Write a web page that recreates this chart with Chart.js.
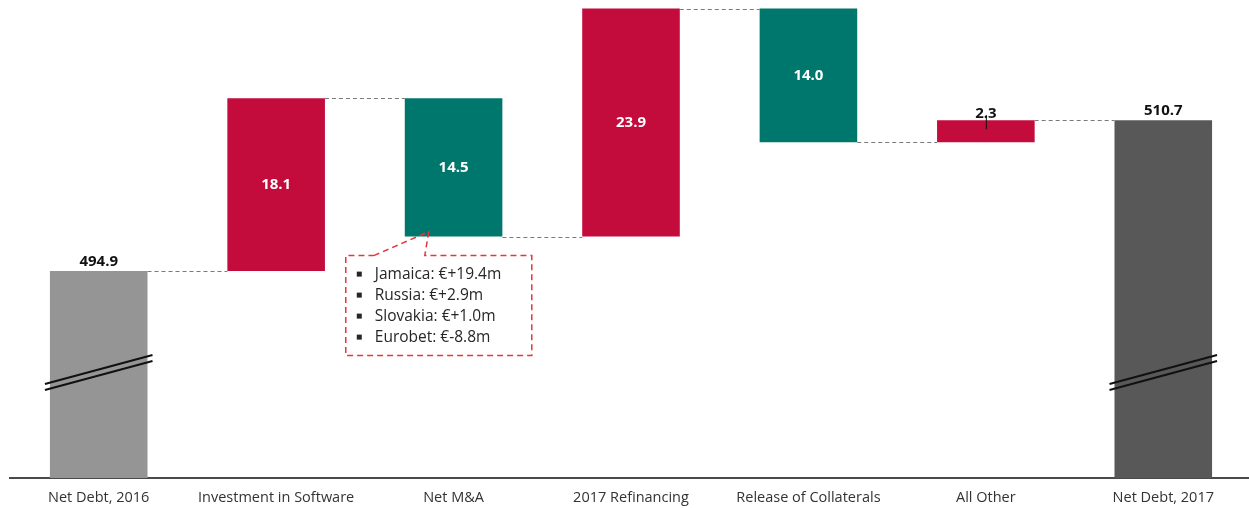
<!DOCTYPE html>
<html>
<head>
<meta charset="utf-8">
<script src="https://cdn.jsdelivr.net/npm/chart.js@4.4.0/dist/chart.umd.min.js"></script>
<style>
  html, body { margin: 0; padding: 0; background: #fff; }
  #wrap { width: 1252px; height: 508px; }
</style>
</head>
<body>
<div id="wrap"><canvas id="bridge"></canvas></div>
<script>
// 차트 데이터
const categories = ['Net Debt, 2016', 'Investment in Software', 'Net M&A', '2017 Refinancing', 'Release of Collaterals', 'All Other', 'Net Debt, 2017'];
const startValue = 494.9;
const changes = [18.1, -14.5, 23.9, -14.0, 2.3];
const endValue = 510.7;
const calloutLines = ['Jamaica: €+19.4m', 'Russia: €+2.9m', 'Slovakia: €+1.0m', 'Eurobet: €-8.8m'];

// 색
const red = '#C30B3C';
const teal = '#00776D';
const startGrey = '#959595';
const endGrey = '#585858';
const fontFamily = '"Open Sans", "Noto Sans", sans-serif';

// 누적값으로 floating bar 만들기
const barData = [startValue];
const levels = [startValue];
let running = startValue;
changes.forEach(c => {
  barData.push([running, running + c]);
  running = running + c;
  levels.push(running);
});
barData.push(endValue);

const barColors = [startGrey].concat(changes.map(c => c >= 0 ? red : teal)).concat([endGrey]);

// 연결선, 값 라벨, 절단 표시, 설명 박스
const bridgeDecor = {
  id: 'bridgeDecor',
  afterDatasetsDraw(chart) {
    const ctx = chart.ctx;
    const y = chart.scales.y;
    const bars = chart.getDatasetMeta(0).data;
    const area = chart.chartArea;

    // dashed connectors
    ctx.save();
    ctx.strokeStyle = '#7a7a7a';
    ctx.lineWidth = 1;
    ctx.setLineDash([4, 3]);
    for (let i = 0; i < bars.length - 1; i++) {
      const lv = y.getPixelForValue(levels[i]);
      const x1 = bars[i].x + bars[i].width / 2;
      const x2 = bars[i + 1].x - bars[i + 1].width / 2;
      ctx.beginPath();
      ctx.moveTo(x1, Math.round(lv) + 0.5);
      ctx.lineTo(x2, Math.round(lv) + 0.5);
      ctx.stroke();
    }
    ctx.restore();

    // value labels
    ctx.save();
    ctx.textAlign = 'center';
    ctx.font = 'bold 15px ' + fontFamily;
    // totals
    [0, bars.length - 1].forEach(i => {
      const v = i === 0 ? startValue : endValue;
      ctx.fillStyle = '#111';
      ctx.textBaseline = 'bottom';
      ctx.fillText(v.toFixed(1), bars[i].x, y.getPixelForValue(v) - 2);
    });
    changes.forEach((c, k) => {
      const b = bars[k + 1];
      const top = y.getPixelForValue(Math.max(levels[k], levels[k + 1]));
      const bottom = y.getPixelForValue(Math.min(levels[k], levels[k + 1]));
      const txt = Math.abs(c).toFixed(1);
      if (bottom - top > 30) {
        ctx.fillStyle = '#fff';
        ctx.textBaseline = 'middle';
        ctx.fillText(txt, b.x, (top + bottom) / 2);
      } else {
        ctx.fillStyle = '#111';
        ctx.textBaseline = 'bottom';
        ctx.fillText(txt, b.x, top + 1);
        ctx.strokeStyle = '#111';
        ctx.lineWidth = 1;
        ctx.beginPath();
        ctx.moveTo(b.x + 0.5, top - 5);
        ctx.lineTo(b.x + 0.5, top + 9);
        ctx.stroke();
      }
    });
    ctx.restore();

    // axis break marks on the total bars
    ctx.save();
    ctx.strokeStyle = '#111';
    ctx.lineWidth = 2;
    [0, bars.length - 1].forEach(i => {
      const b = bars[i];
      const l = b.x - b.width / 2 - 5;
      const r = b.x + b.width / 2 + 5;
      const mid = area.bottom - 106;
      [-3, 3].forEach(off => {
        ctx.beginPath();
        ctx.moveTo(l, mid + 15 + off);
        ctx.lineTo(r, mid - 14 + off);
        ctx.stroke();
      });
    });
    ctx.restore();

    // Net M&A callout
    const mb = bars[2];
    const tipX = mb.x - mb.width / 2 + 24;
    const tipY = y.getPixelForValue(levels[2]) - 5;
    const bl = mb.x - mb.width / 2 - 59;
    const br = bl + 186;
    const bt = tipY + 24;
    const bb = bt + 100;
    ctx.save();
    ctx.strokeStyle = '#E8343C';
    ctx.lineWidth = 1.5;
    ctx.setLineDash([6, 4]);
    ctx.beginPath();
    ctx.moveTo(bl + 28, bt);
    ctx.lineTo(tipX, tipY);
    ctx.lineTo(tipX - 4, bt);
    ctx.lineTo(br, bt);
    ctx.lineTo(br, bb);
    ctx.lineTo(bl, bb);
    ctx.lineTo(bl, bt);
    ctx.closePath();
    ctx.stroke();
    ctx.setLineDash([]);
    ctx.fillStyle = '#262626';
    ctx.font = '15.5px ' + fontFamily;
    ctx.textAlign = 'left';
    ctx.textBaseline = 'middle';
    calloutLines.forEach((line, i) => {
      const ly = bt + 19 + i * 21;
      ctx.fillRect(bl + 11, ly - 3, 5, 5);
      ctx.fillText(line, bl + 29, ly);
    });
    ctx.restore();
  }
};

new Chart(document.getElementById('bridge'), {
  type: 'bar',
  data: {
    labels: categories,
    datasets: [{
      data: barData,
      backgroundColor: barColors,
      borderWidth: 0,
      barPercentage: 0.55,
      categoryPercentage: 1.0
    }]
  },
  options: {
    responsive: true,
    maintainAspectRatio: false,
    animation: false,
    layout: { padding: { left: 10, right: 0, top: 0, bottom: 0 } },
    plugins: {
      legend: { display: false },
      tooltip: { enabled: false }
    },
    scales: {
      x: {
        grid: { display: false },
        border: { display: true, color: '#4a4a4a', width: 2 },
        ticks: {
          color: '#333',
          font: { family: fontFamily, size: 14.5 },
          padding: 3,
          maxRotation: 0,
          autoSkip: false
        },
        afterFit(scale) { scale.height = 30; }
      },
      y: {
        display: false,
        min: 473.2,
        max: 523.3
      }
    }
  },
  plugins: [bridgeDecor]
});
</script>
</body>
</html>
